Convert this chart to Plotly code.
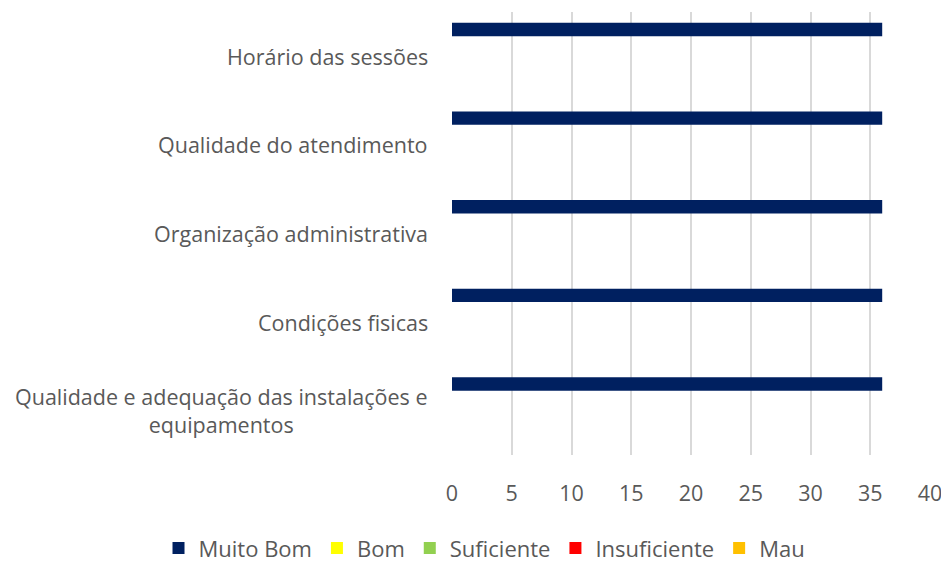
import plotly.graph_objects as go

categories = [
    "Horário das sessões",
    "Qualidade do atendimento",
    "Organização administrativa",
    "Condições fisicas",
    "Qualidade e adequação das instalações e<br>equipamentos",
]
series_names = ["Muito Bom", "Bom", "Suficiente", "Insuficiente", "Mau"]
muito_bom = [36, 36, 36, 36, 36]
bom = [0, 0, 0, 0, 0]
suficiente = [0, 0, 0, 0, 0]
insuficiente = [0, 0, 0, 0, 0]
mau = [0, 0, 0, 0, 0]
colors = ["#002060", "#FFFF00", "#92D050", "#FF0000", "#FFC000"]
x_ticks = [0, 5, 10, 15, 20, 25, 30, 35, 40]

FONT = "Open Sans"
GRAY = "#595959"
FS = 21.5

fig = go.Figure()
for name, vals, col in zip(series_names, [muito_bom, bom, suficiente, insuficiente, mau], colors):
    fig.add_trace(go.Bar(y=categories, x=vals, name=name, orientation="h",
                         marker=dict(color=col, line=dict(width=0))))

for c in categories:
    fig.add_annotation(x=0, xref="paper", y=c, yref="y", text=c, showarrow=False,
                       xanchor="right", xshift=-22, align="center",
                       font=dict(family=FONT, size=FS, color=GRAY))

fig.update_layout(
    width=941, height=554,
    margin=dict(l=444, r=19, t=4, b=107, autoexpand=False),
    paper_bgcolor="white", plot_bgcolor="white",
    barmode="group", bargap=0.245, bargroupgap=0,
    font=dict(family=FONT, size=FS, color=GRAY),
    legend=dict(orientation="h", xref="paper", x=-0.614, xanchor="left",
                yref="paper", y=-0.163, yanchor="top",
                font=dict(family=FONT, size=22, color=GRAY),
                itemwidth=30, tracegroupgap=0),
    showlegend=True,
)
fig.update_xaxes(range=[0, 40], tickvals=x_ticks, showgrid=True, gridcolor="#D9D9D9",
                 gridwidth=1.5, zeroline=False, showline=False, ticks="",
                 ticklabelstandoff=23, tickfont=dict(family=FONT, size=FS, color=GRAY))
fig.update_yaxes(autorange="reversed", showticklabels=False, showgrid=False,
                 showline=False, ticks="")

fig.write_html("out.html")
